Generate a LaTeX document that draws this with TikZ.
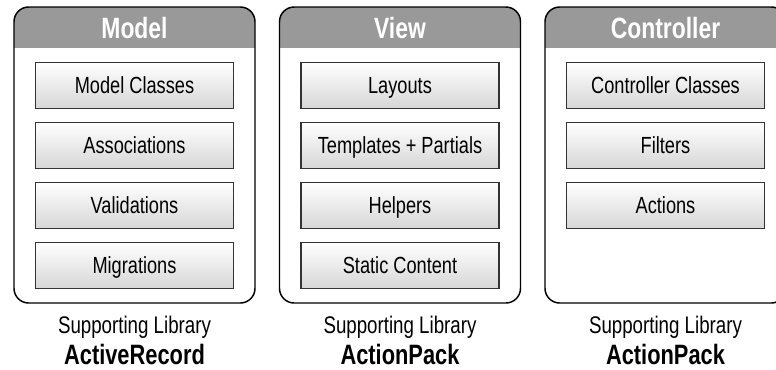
\documentclass[tikz,border=0pt]{standalone}
\usepackage{fontspec}
\setmainfont{Liberation Sans}[FakeStretch=0.78]
\begin{document}
\begin{tikzpicture}[x=0.75pt,y=-0.75pt,
    panel/.style={line width=1.1pt, rounded corners=11pt},
    head/.style={text=white, font=\bfseries\fontsize{22}{24}\selectfont},
    part/.style={draw=black!80, line width=0.9pt, top color=white, bottom color=black!16,
                 minimum width=148.5pt, minimum height=34.5pt, text height=12.5pt, text depth=0pt,
                 font=\fontsize{17.5}{19}\selectfont},
    lib/.style={inner sep=0pt, font=\fontsize{18}{20}\selectfont},
    libname/.style={inner sep=0pt, font=\bfseries\fontsize{21}{23}\selectfont}]
    \clip (0,0) rectangle (776,369);

    % the three layers: frame, grey head, supporting library
    \foreach \x/\id/\hd/\ln in {14/model/Model/ActiveRecord, 279.5/view/View/ActionPack, 545/ctrl/Controller/ActionPack} {
        \begin{scope}
            \clip[rounded corners=11pt] (\x,7) rectangle (\x+241,303);
            \fill[black!40] (\x,7) rectangle (\x+241,48);
        \end{scope}
        \draw[panel] (\x,7) rectangle (\x+241,303);
        \node[head] (\id) at (\x+120.5,28) {\hd};
        \node[lib] (\id-sup) at (\x+120.5,327) {Supporting Library};
        \node[libname] (\id-lib) at (\x+120.5,354) {\ln};
    }

    % Model
    \foreach \t [count=\i] in {Model Classes, Associations, Validations, Migrations}
        \node[part] (model-\i) at (134.5, 25.5+60*\i) {\t};

    % View
    \foreach \t [count=\i] in {Layouts, Templates + Partials, Helpers, Static Content}
        \node[part] (view-\i) at (400, 25.5+60*\i) {\t};

    % Controller
    \foreach \t [count=\i] in {Controller Classes, Filters, Actions}
        \node[part] (ctrl-\i) at (665.5, 25.5+60*\i) {\t};
\end{tikzpicture}
\end{document}
